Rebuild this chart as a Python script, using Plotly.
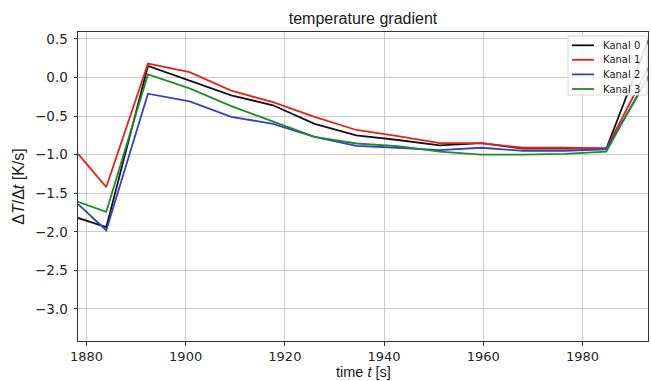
import plotly.graph_objects as go

time_s = [1878.3, 1884.0, 1892.4, 1900.8, 1909.2, 1917.6, 1926.0, 1934.4,
          1942.8, 1951.2, 1959.6, 1968.0, 1976.4, 1984.8, 1993.2]
kanal0 = [-1.82, -1.94, 0.15, -0.04, -0.23, -0.36, -0.60, -0.75,
          -0.81, -0.88, -0.85, -0.92, -0.92, -0.92, 0.48]
kanal1 = [-0.99, -1.42, 0.18, 0.07, -0.17, -0.32, -0.51, -0.68,
          -0.76, -0.85, -0.85, -0.91, -0.91, -0.92, 0.12]
kanal2 = [-1.64, -1.98, -0.21, -0.31, -0.51, -0.60, -0.77, -0.885,
          -0.91, -0.94, -0.91, -0.95, -0.95, -0.93, -0.01]
kanal3 = [-1.61, -1.74, 0.04, -0.14, -0.37, -0.575, -0.77, -0.855,
          -0.89, -0.96, -1.00, -1.00, -0.99, -0.96, 0.02]

names = ["Kanal 0", "Kanal 1", "Kanal 2", "Kanal 3"]
values = [kanal0, kanal1, kanal2, kanal3]
colors = ["#111111", "#e8201c", "#3440c0", "#1e8c2a"]

x_ticks = [1880, 1900, 1920, 1940, 1960, 1980]
y_ticks = [0.5, 0.0, -0.5, -1.0, -1.5, -2.0, -2.5, -3.0]
y_ticklabels = ["0.5", "0.0", "\u22120.5", "\u22121.0", "\u22121.5", "\u22122.0", "\u22122.5", "\u22123.0"]

W, H = 651, 381
ML, MR, MT, MB = 78, 3, 32, 40
PW, PH = W - ML - MR, H - MT - MB


def px_x(px):
    return (px - ML) / PW


def px_y(py):
    return (H - MB - py) / PH


fig = go.Figure()
for name, vals, col in zip(names, values, colors):
    fig.add_trace(go.Scatter(x=time_s, y=vals, mode="lines", name=name,
                             line=dict(color=col, width=1.8), showlegend=False))

tick_font = "DejaVu Sans"
label_font = "Liberation Sans, Arial, sans-serif"
axis_common = dict(showgrid=True, gridcolor="#cccccc", gridwidth=1.1,
                   showline=True, linecolor="#333333", linewidth=1, mirror=True,
                   ticks="outside", ticklen=3.5, tickcolor="#333333",
                   tickfont=dict(family=tick_font, size=13.5, color="#262626"),
                   zeroline=False)

# legend box (drawn manually to match the compact matplotlib legend)
shapes = [dict(type="rect", xref="paper", yref="paper",
               x0=px_x(568), x1=px_x(647), y0=px_y(95), y1=px_y(36),
               line=dict(color="#d6d6d6", width=1), fillcolor="rgba(255,255,255,0.85)",
               layer="above")]
annotations = []
entry_y = [45.3, 59.8, 74.4, 89.0]
for name, col, ey in zip(names, colors, entry_y):
    shapes.append(dict(type="line", xref="paper", yref="paper",
                       x0=px_x(572), x1=px_x(594), y0=px_y(ey), y1=px_y(ey),
                       line=dict(color=col, width=1.8), layer="above"))
    annotations.append(dict(text=name, xref="paper", yref="paper",
                            x=px_x(601), y=px_y(ey), xanchor="left", yanchor="middle",
                            showarrow=False,
                            font=dict(family=tick_font, size=10, color="#1a1a1a")))

# x-axis title
annotations.append(dict(text="time <i>t</i> [s]", xref="paper", yref="paper",
                        x=0.5, y=px_y(H), xanchor="center", yanchor="bottom",
                        showarrow=False, yshift=0, borderpad=0,
                        font=dict(family=label_font, size=14.5, color="#1a1a1a")))

fig.update_layout(
    width=W, height=H,
    margin=dict(l=ML, r=MR, t=MT, b=MB),
    plot_bgcolor="white", paper_bgcolor="white",
    title=dict(text="temperature gradient", x=(ML + PW / 2) / W, xanchor="center",
               y=1 - 18 / H, yanchor="middle",
               font=dict(family=label_font, size=16, color="#1a1a1a")),
    xaxis=dict(range=[1878.3, 1993.2], tickvals=x_ticks, **axis_common),
    yaxis=dict(range=[-3.415, 0.59], tickvals=y_ticks, ticktext=y_ticklabels,
               ticklabelstandoff=3,
               title=dict(text="\u0394<i>T</i>/\u0394<i>t</i> [K/s]", standoff=6,
                          font=dict(family=label_font, size=16, color="#1a1a1a")),
               **axis_common),
    shapes=shapes,
    annotations=annotations,
    showlegend=False,
)
fig.update_xaxes(tickfont=dict(family=tick_font, size=13, color="#262626"))

fig.write_html("out.html")
